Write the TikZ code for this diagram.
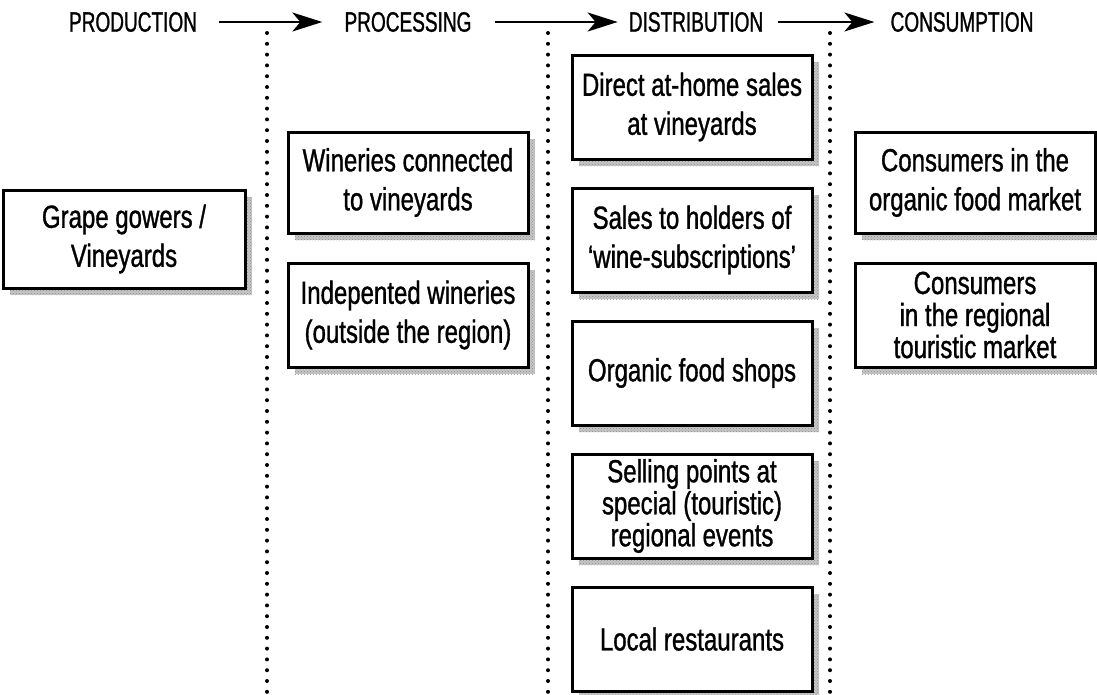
\documentclass[tikz,border=0pt]{standalone}
\usepackage{fontspec}
\setmainfont{Liberation Sans}[FakeStretch=0.75, FakeBold=1]
\newfontfamily\headfont{Liberation Sans}[FakeStretch=0.68, FakeBold=1]
\usetikzlibrary{arrows.meta,patterns}
\begin{document}
\begin{tikzpicture}[x=1pt,y=-1pt,
  head/.style={inner sep=0pt, font=\headfont\fontsize{28}{30}\selectfont},
  flow/.style={line width=2pt, -{Stealth[length=30pt,width=19pt,inset=8pt]}},
  stage/.style={draw, line width=3pt, fill=white, align=center,
    minimum width=240pt, inner sep=0pt,
    font=\fontsize{32}{39}\selectfont,
    preaction={fill=gray!45, transform canvas={shift={(7,7)}}},
    preaction={pattern=crosshatch dots, pattern color=gray!90,
      transform canvas={shift={(7,7)}}}},
  tight/.style={font=\fontsize{32}{32}\selectfont},
  divider/.style={line width=4pt, line cap=round, dash pattern=on 0pt off 10.8pt}]
\useasboundingbox (0,0) rectangle (1097,694);

% column dividers
\draw[divider] (267,33) -- (267,694);
\draw[divider] (548,33) -- (548,694);
\draw[divider] (830,33) -- (830,694);

% stage headings
\node[head] (prod) at (133,22) {PRODUCTION};
\node[head] (proc) at (408,22) {PROCESSING};
\node[head] (dist) at (696,22) {DISTRIBUTION};
\node[head] (cons) at (962,22) {CONSUMPTION};

\draw[flow] ([xshift=22pt]prod.east) -- ([xshift=-22pt]proc.west);
\draw[flow] ([xshift=23pt]proc.east) -- ([xshift=-11pt]dist.west);
\draw[flow] ([xshift=15pt]dist.east) -- ([xshift=-16pt]cons.west);

% production
\node[stage, minimum width=242pt, minimum height=98pt] (grape) at (124,239)
  {Grape gowers /\\Vineyards};

% processing
\node[stage, minimum height=101pt] (wconn) at (408,182.5)
  {Wineries connected\\to vineyards};
\node[stage, minimum height=104pt] (windep) at (408,315)
  {Indepented wineries\\(outside the region)};

% distribution
\node[stage, minimum height=104pt] (direct) at (692,107)
  {Direct at-home sales\\at vineyards};
\node[stage, minimum height=104pt] (subs) at (692,240)
  {Sales to holders of\\‘wine-subscriptions’};
\node[stage, minimum height=104pt] (shops) at (692,373)
  {Organic food shops};
\node[stage, tight, minimum height=104pt] (events) at (692,506)
  {Selling points at\\special (touristic)\\regional events};
\node[stage, minimum height=104pt] (rest) at (692,639)
  {Local restaurants};

% consumption
\node[stage, minimum height=101pt] (corg) at (975,182.5)
  {Consumers in the\\organic food market};
\node[stage, tight, minimum height=104pt] (creg) at (975,315)
  {Consumers\\in the regional\\touristic market};
\end{tikzpicture}
\end{document}
